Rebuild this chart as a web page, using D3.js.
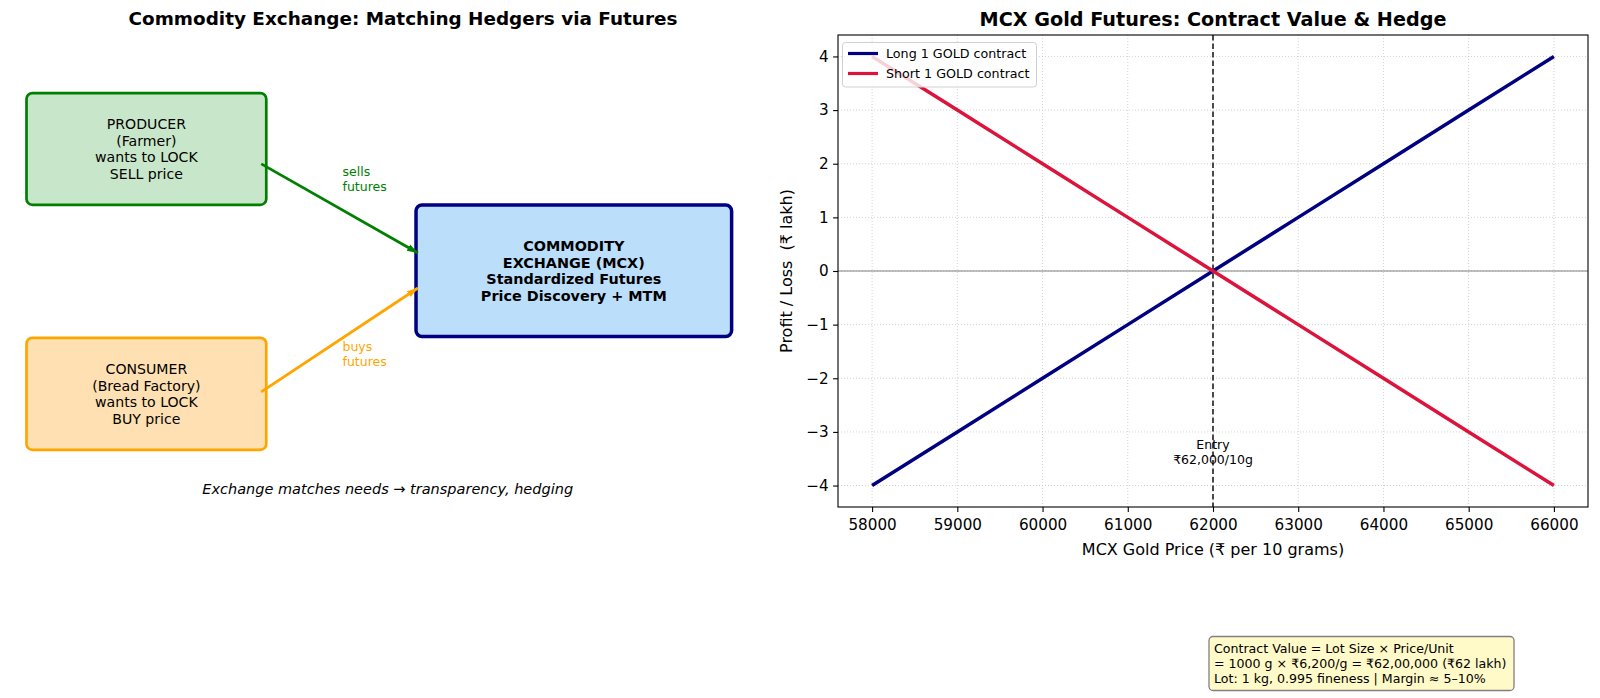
<!DOCTYPE html>
<html><head><meta charset="utf-8">
<script src="https://cdn.jsdelivr.net/npm/d3@7"></script>
<style>
body{margin:0;background:#fff;}
text{font-family:"DejaVu Sans",sans-serif;}
</style></head>
<body><svg id="c" width="1600" height="698"></svg>
<script>
// ---------- data ----------
const prices = [58000, 59000, 60000, 61000, 62000, 63000, 64000, 65000, 66000];
const longPL = [-4, -3, -2, -1, 0, 1, 2, 3, 4];
const shortPL = [4, 3, 2, 1, 0, -1, -2, -3, -4];
const xTicks = [58000, 59000, 60000, 61000, 62000, 63000, 64000, 65000, 66000];
const yTicks = [-4, -3, -2, -1, 0, 1, 2, 3, 4];
const entryPrice = 62000;
const seriesNames = ["Long 1 GOLD contract", "Short 1 GOLD contract"];
const seriesColors = ["#000080", "#dc143c"];
const entryLabel = ["Entry", "₹62,000/10g"];
const noteLines = ["Contract Value = Lot Size × Price/Unit",
                   "= 1000 g × ₹6,200/g = ₹62,00,000 (₹62 lakh)",
                   "Lot: 1 kg, 0.995 fineness | Margin ≈ 5–10%"];
// diagram boxes (diagram units 0..10)
const boxes = [
  {lines:["PRODUCER","(Farmer)","wants to LOCK","SELL price"], x0:0.085, x1:3.215, y0:6.40, y1:8.77, fill:"#c8e6c9", stroke:"#008000", bold:false, sw:2.7},
  {lines:["CONSUMER","(Bread Factory)","wants to LOCK","BUY price"], x0:0.085, x1:3.215, y0:1.21, y1:3.585, fill:"#ffe0b2", stroke:"#ffa500", bold:false, sw:2.7},
  {lines:["COMMODITY","EXCHANGE (MCX)","Standardized Futures","Price Discovery + MTM"], x0:5.17, x1:9.29, y0:3.61, y1:6.40, fill:"#bbdefb", stroke:"#000080", bold:true, sw:3.5}
];
const arrows = [
  {x0:3.15, y0:7.27, x1:5.195, y1:5.38, color:"#008000", label:["sells","futures"], lx:4.21, ly:7.105},
  {x0:3.15, y0:2.44, x1:5.195, y1:4.64, color:"#ffa500", label:["buys","futures"], lx:4.21, ly:3.41}
];
const caption = "Exchange matches needs → transparency, hedging";
const leftTitle = "Commodity Exchange: Matching Hedgers via Futures";
const rightTitle = "MCX Gold Futures: Contract Value & Hedge";

const svg = d3.select("#c");

// ---------- left diagram ----------
const xL = d3.scaleLinear().domain([0, 10]).range([20, 786]);
const yL = d3.scaleLinear().domain([0, 10]).range([507, 35]);

svg.append("text").attr("x", xL(5)).attr("y", 25).attr("text-anchor", "middle")
  .attr("font-size", 18.4).attr("font-weight", "bold").text(leftTitle);

const defs = svg.append("defs");
arrows.forEach((a, i) => {
  defs.append("marker").attr("id", "ah" + i).attr("viewBox", "0 0 10 10")
    .attr("refX", 10).attr("refY", 5).attr("markerWidth", 11).attr("markerHeight", 11)
    .attr("markerUnits", "userSpaceOnUse").attr("orient", "auto")
    .append("path").attr("d", "M0,1.8 L10,5 L0,8.2 Z").attr("fill", a.color);
});

const bg = svg.append("g");
boxes.forEach(b => {
  bg.append("rect").attr("x", xL(b.x0)).attr("y", yL(b.y1))
    .attr("width", xL(b.x1) - xL(b.x0)).attr("height", yL(b.y0) - yL(b.y1))
    .attr("rx", 6).attr("ry", 6).attr("fill", b.fill).attr("stroke", b.stroke).attr("stroke-width", b.sw);
  const cx = (xL(b.x0) + xL(b.x1)) / 2, cy = (yL(b.y0) + yL(b.y1)) / 2;
  const lh = 16.8, n = b.lines.length;
  b.lines.forEach((t, k) => {
    bg.append("text").attr("x", cx).attr("y", cy + (k - (n - 1) / 2) * lh).attr("dy", "0.36em")
      .attr("text-anchor", "middle").attr("font-size", b.bold ? 14.4 : 14.1)
      .attr("font-weight", b.bold ? "bold" : "normal").text(t);
  });
});

arrows.forEach((a, i) => {
  bg.append("line").attr("x1", xL(a.x0)).attr("y1", yL(a.y0)).attr("x2", xL(a.x1)).attr("y2", yL(a.y1))
    .attr("stroke", a.color).attr("stroke-width", 2.8).attr("marker-end", "url(#ah" + i + ")");
  a.label.forEach((t, k) => {
    bg.append("text").attr("x", xL(a.lx)).attr("y", yL(a.ly) + k * 15.2).attr("dy", "0.36em")
      .attr("font-size", 12.5).attr("fill", a.color).text(t);
  });
});

bg.append("text").attr("x", xL(4.8)).attr("y", yL(0.38)).attr("dy", "0.36em").attr("text-anchor", "middle")
  .attr("font-size", 14.5).attr("font-style", "italic").text(caption);

// ---------- right chart ----------
const m = {l: 838, r: 1588, t: 35, b: 507};
const x = d3.scaleLinear().domain([57600, 66400]).range([m.l, m.r]);
const y = d3.scaleLinear().domain([-4.4, 4.4]).range([m.b, m.t]);

svg.append("text").attr("x", (m.l + m.r) / 2).attr("y", 25.5).attr("text-anchor", "middle")
  .attr("font-size", 19.2).attr("font-weight", "bold").text(rightTitle);

const g = svg.append("g");
// grid
g.selectAll(".gx").data(xTicks).join("line").attr("x1", d => x(d)).attr("x2", d => x(d))
  .attr("y1", m.t).attr("y2", m.b).attr("stroke", "#c8c8c8").attr("stroke-width", 0.8).attr("stroke-dasharray", "1,2");
g.selectAll(".gy").data(yTicks).join("line").attr("y1", d => y(d)).attr("y2", d => y(d))
  .attr("x1", m.l).attr("x2", m.r).attr("stroke", "#c8c8c8").attr("stroke-width", 0.8).attr("stroke-dasharray", "1,2");

// zero line
g.append("line").attr("x1", m.l).attr("x2", m.r).attr("y1", y(0)).attr("y2", y(0))
  .attr("stroke", "#808080").attr("stroke-width", 1.2);
// entry line
g.append("line").attr("x1", x(entryPrice)).attr("x2", x(entryPrice)).attr("y1", m.t).attr("y2", m.b)
  .attr("stroke", "#000").attr("stroke-width", 1.4).attr("stroke-dasharray", "5.5,3");

const line = d3.line().x(d => x(d[0])).y(d => y(d[1]));
[longPL, shortPL].forEach((s, i) => {
  g.append("path").datum(prices.map((p, k) => [p, s[k]])).attr("d", line)
    .attr("fill", "none").attr("stroke", seriesColors[i]).attr("stroke-width", 3.5);
});

// entry label
entryLabel.forEach((t, k) => {
  g.append("text").attr("x", x(entryPrice)).attr("y", y(-3.24) + k * 15).attr("dy", "0.36em")
    .attr("text-anchor", "middle").attr("font-size", 12.5).text(t);
});

// axes
const ax = g.append("g").attr("transform", `translate(0,${m.b})`)
  .call(d3.axisBottom(x).tickValues(xTicks).tickFormat(d3.format("d")).tickSize(4.9).tickPadding(7.5).tickSizeOuter(0));
const ay = g.append("g").attr("transform", `translate(${m.l},0)`)
  .call(d3.axisLeft(y).tickValues(yTicks).tickFormat(d3.format("d")).tickSize(4.9).tickPadding(4.5).tickSizeOuter(0));
[ax, ay].forEach(a => {
  a.select(".domain").remove();
  a.selectAll("text").attr("font-size", 15.2).attr("font-family", "DejaVu Sans").attr("fill", "#000");
  a.selectAll("line").attr("stroke", "#000").attr("stroke-width", 1.1);
});
g.append("rect").attr("x", m.l).attr("y", m.t).attr("width", m.r - m.l).attr("height", m.b - m.t)
  .attr("fill", "none").attr("stroke", "#000").attr("stroke-width", 1.1);

g.append("text").attr("x", (m.l + m.r) / 2).attr("y", 549).attr("dy", "0.36em").attr("text-anchor", "middle")
  .attr("font-size", 16).text("MCX Gold Price (₹ per 10 grams)");
g.append("text").attr("transform", `translate(786,${(m.t + m.b) / 2}) rotate(-90)`).attr("dy", "0.36em")
  .attr("text-anchor", "middle").attr("font-size", 16).style("white-space", "pre").text("Profit / Loss  (₹ lakh)");

// legend
const lg = g.append("g");
lg.append("rect").attr("x", 842.5).attr("y", 42.5).attr("width", 194).attr("height", 44.5).attr("rx", 3)
  .attr("fill", "#fff").attr("fill-opacity", 0.8).attr("stroke", "#d0d0d0").attr("stroke-width", 1);
seriesNames.forEach((n, i) => {
  const yy = 53.5 + i * 20;
  lg.append("line").attr("x1", 848).attr("x2", 878).attr("y1", yy).attr("y2", yy)
    .attr("stroke", seriesColors[i]).attr("stroke-width", 3.2);
  lg.append("text").attr("x", 886).attr("y", yy).attr("dy", "0.36em").attr("font-size", 12.7).text(n);
});

// note box
const nb = svg.append("g");
nb.append("rect").attr("x", 1209).attr("y", 636.5).attr("width", 305).attr("height", 54).attr("rx", 4)
  .attr("fill", "#fffac8").attr("stroke", "#808080").attr("stroke-width", 1.3);
noteLines.forEach((t, k) => {
  nb.append("text").attr("x", 1214).attr("y", 648 + k * 15.3).attr("dy", "0.36em").attr("font-size", 12.6).text(t);
});
</script></body></html>
